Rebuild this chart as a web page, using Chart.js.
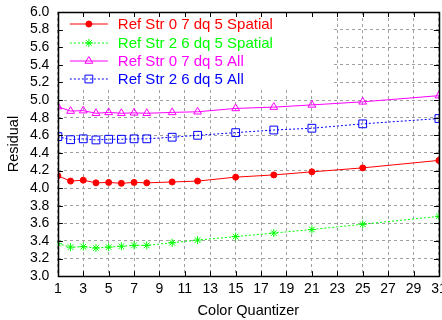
<!DOCTYPE html>
<html>
<head>
<meta charset="utf-8">
<script src="https://cdn.jsdelivr.net/npm/chart.js@4/dist/chart.umd.min.js"></script>
<style>
  html, body { margin:0; padding:0; overflow:hidden; background:#fff; width:442px; height:320px; }
  canvas { display:block; }
</style>
</head>
<body>
<canvas id="myChart" width="451" height="320"></canvas>
<script>
// color quantizer values on the x axis
const quant = [1, 2, 3, 4, 5, 6, 7, 8, 10, 12, 15, 18, 21, 25, 31];

const ref07Spatial = [4.14, 4.08, 4.09, 4.06, 4.065, 4.055, 4.065, 4.06, 4.07, 4.08, 4.125, 4.15, 4.185, 4.23, 4.315];
const ref26Spatial = [3.37, 3.33, 3.335, 3.32, 3.33, 3.34, 3.35, 3.35, 3.38, 3.41, 3.45, 3.49, 3.53, 3.59, 3.68];
const ref07All     = [4.925, 4.875, 4.88, 4.85, 4.86, 4.85, 4.855, 4.85, 4.86, 4.867, 4.905, 4.92, 4.945, 4.98, 5.05];
const ref26All     = [4.585, 4.55, 4.56, 4.547, 4.555, 4.555, 4.56, 4.56, 4.578, 4.6, 4.63, 4.66, 4.68, 4.73, 4.79];

const seriesNames = ["Ref Str 0 7 dq 5 Spatial", "Ref Str 2 6 dq 5 Spatial", "Ref Str 0 7 dq 5 All", "Ref Str 2 6 dq 5 All"];

function pts(vals) {
  return quant.map((q, i) => ({ x: q, y: vals[i] }));
}

const FONT = "'Liberation Sans', Arial, sans-serif";

// box round the plot, inward ticks, key with white fill (gnuplot style)
const frameAndKey = {
  id: "frameAndKey",
  afterDatasetsDraw(chart) {
    const ctx = chart.ctx;
    const a = chart.chartArea;
    const sx = chart.scales.x, sy = chart.scales.y;
    ctx.save();
    ctx.fillStyle = "#fff";
    ctx.fillRect(a.left + 1, a.top + 1, 273, 74);
    // tick marks on all four sides
    ctx.strokeStyle = "#000";
    ctx.lineWidth = 1;
    ctx.beginPath();
    sx.ticks.forEach(t => {
      const px = Math.round(sx.getPixelForValue(t.value)) + 0.5;
      ctx.moveTo(px, a.bottom); ctx.lineTo(px, a.bottom - 5);
      ctx.moveTo(px, a.top); ctx.lineTo(px, a.top + 5);
    });
    sy.ticks.forEach(t => {
      const py = Math.round(sy.getPixelForValue(t.value)) + 0.5;
      ctx.moveTo(a.left, py); ctx.lineTo(a.left + 5, py);
      ctx.moveTo(a.right, py); ctx.lineTo(a.right - 5, py);
    });
    ctx.stroke();
    const rows = [12, 31, 49, 67];
    chart.data.datasets.forEach((ds, i) => {
      const y = a.top + rows[i];
      ctx.strokeStyle = ds.borderColor;
      ctx.lineWidth = 1;
      ctx.setLineDash(ds.borderDash || []);
      ctx.beginPath();
      ctx.moveTo(a.left + 12, y);
      ctx.lineTo(a.left + 50, y);
      ctx.stroke();
      ctx.setLineDash([]);
      ctx.strokeStyle = ds.borderColor;
      ctx.fillStyle = ds.pointBackgroundColor;
      ctx.lineWidth = 1;
      Chart.helpers.drawPoint(ctx, {
        pointStyle: ds.pointStyle,
        radius: ds.pointRadius,
        borderWidth: 1,
        rotation: 0
      }, a.left + 31, y);
      ctx.font = "15px " + FONT;
      ctx.fillStyle = ds.borderColor;
      ctx.textBaseline = "middle";
      ctx.fillText(ds.label, a.left + 60, y + 1);
    });
    ctx.strokeStyle = "#000";
    ctx.lineWidth = 1.5;
    ctx.strokeRect(Math.round(a.left) + 0.5, Math.round(a.top) + 0.5, Math.round(a.right - a.left), Math.round(a.bottom - a.top));
    ctx.restore();
  }
};

const ctx = document.getElementById('myChart').getContext("2d");
const myChart = new Chart(ctx, {
  type: "line",
  data: {
    datasets: [{
      label: seriesNames[0],
      data: pts(ref07Spatial),
      borderColor: "#ff0000",
      backgroundColor: "#ff0000",
      pointBackgroundColor: "#ff0000",
      pointStyle: "circle",
      pointRadius: 3,
      borderWidth: 1
    }, {
      label: seriesNames[1],
      data: pts(ref26Spatial),
      borderColor: "#00ff00",
      backgroundColor: "#00ff00",
      pointBackgroundColor: "#00ff00",
      pointStyle: "star",
      pointRadius: 4,
      borderWidth: 1,
      borderDash: [2, 2]
    }, {
      label: seriesNames[2],
      data: pts(ref07All),
      borderColor: "#ff00ff",
      backgroundColor: "#ff00ff",
      pointBackgroundColor: "rgba(0,0,0,0)",
      pointStyle: "triangle",
      pointRadius: 4.5,
      borderWidth: 1
    }, {
      label: seriesNames[3],
      data: pts(ref26All),
      borderColor: "#0000ff",
      backgroundColor: "#0000ff",
      pointBackgroundColor: "rgba(0,0,0,0)",
      pointStyle: "rect",
      pointRadius: 5.5,
      borderWidth: 1,
      borderDash: [2, 2]
    }]
  },
  options: {
    responsive: false,
    animation: false,
    layout: { padding: { left: 4, right: 0, top: 0, bottom: 0 } },
    plugins: {
      legend: { display: false },
      tooltip: { enabled: false }
    },
    elements: { line: { tension: 0 } },
    scales: {
      x: {
        type: "linear",
        min: 1,
        max: 31,
        ticks: {
          stepSize: 2,
          autoSkip: false,
          maxRotation: 0,
          color: "#000",
          padding: 4.3,
          font: { family: FONT, size: 14 }
        },
        grid: { color: "#a0a0a0", drawTicks: false },
        border: { display: false, dash: [3, 3] },
        title: {
          display: true,
          text: "Color Quantizer",
          color: "#000",
          padding: { top: 1, bottom: 0 },
          font: { family: FONT, size: 14.5 }
        }
      },
      y: {
        min: 3,
        max: 6,
        ticks: {
          stepSize: 0.2,
          autoSkip: false,
          color: "#000",
          padding: 8.5,
          font: { family: FONT, size: 14, lineHeight: 0.5 },
          callback: v => v.toFixed(1)
        },
        grid: { color: "#a0a0a0", drawTicks: false },
        border: { display: false, dash: [3, 3] },
        title: {
          display: true,
          text: "Residual",
          color: "#000",
          padding: { top: 1, bottom: -1 },
          font: { family: FONT, size: 14.5 }
        }
      }
    }
  },
  plugins: [frameAndKey]
});
</script>
</body>
</html>
